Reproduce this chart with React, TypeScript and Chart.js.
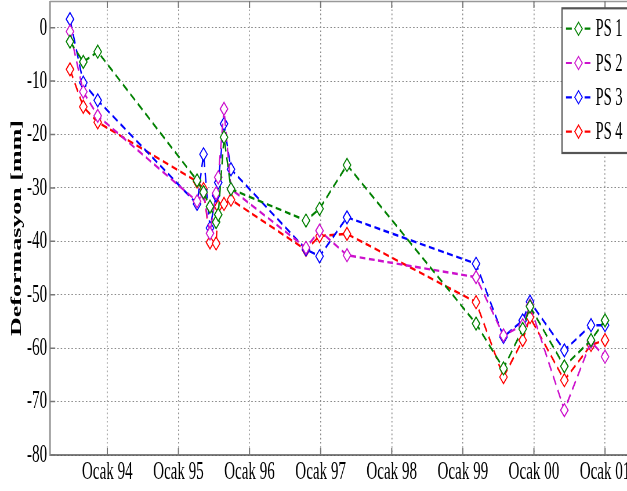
import React, { useEffect, useRef } from "react";
import { Chart, registerables } from "chart.js";

Chart.register(...registerables);

// ---- data ----
const dates = [
  1993.475, 1993.662, 1993.865, 1995.262, 1995.353, 1995.444, 1995.53, 1995.56,
  1995.641, 1995.739, 1996.794, 1996.985, 1997.371, 1999.186, 1999.572, 1999.842,
  1999.945, 2000.428, 2000.803, 2001.0,
];
const ps1 = [-2.6, -6.4, -4.5, -28.6, -30.8, -33.5, -36.4, -35.0, -20.5, -30.2, -36.1, -33.9, -25.7, -55.4, -63.8, -56.4, -52.2, -63.4, -58.5, -54.8];
const ps2 = [-0.7, -12.0, -16.5, -32.5, -31.0, -38.5, -31.0, -28.0, -15.2, -30.2, -41.2, -38.0, -42.6, -46.7, -57.6, -55.7, -52.0, -71.6, -58.8, -61.6];
const ps3 = [1.6, -10.3, -13.6, -33.0, -23.7, -37.5, -31.4, -29.0, -18.0, -26.5, -41.5, -42.8, -35.5, -44.2, -57.9, -54.8, -51.3, -60.4, -55.7, -55.7];
const ps4 = [-7.8, -14.8, -17.7, -28.8, -30.2, -40.2, -40.4, -33.5, -33.0, -32.2, -41.6, -39.0, -38.6, -51.4, -65.4, -58.5, -54.2, -66.0, -59.4, -58.5];
const seriesLabels = ["PS 1", "PS 2", "PS 3", "PS 4"];
const seriesColors = ["#008000", "#cc11cc", "#0000ff", "#ff0000"];
const xTickValues = [1994, 1995, 1996, 1997, 1998, 1999, 2000, 2001];
const xTickLabels = ["Ocak 94", "Ocak 95", "Ocak 96", "Ocak 97", "Ocak 98", "Ocak 99", "Ocak 00", "Ocak 01"];
const yTickValues = [-80, -70, -60, -50, -40, -30, -20, -10, 0];
const yTitle = "Deformasyon [mm]";

// ---- layout ----
const SX = 0.58; // horizontal squeeze of the original figure
const CANVAS_W = 1130;
const CANVAS_H = 491;
const FONT = "'Liberation Serif', 'Times New Roman', serif";

const allSeries = [ps1, ps2, ps3, ps4];

const framePlugin = {
  id: "matlabFrame",
  afterDatasetsDraw(chart: any) {
    const { ctx, chartArea: a, scales } = chart;
    ctx.save();
    ctx.setLineDash([]);
    // top border
    ctx.strokeStyle = "#999";
    ctx.lineWidth = 1.5;
    ctx.beginPath();
    ctx.moveTo(a.left, a.top + 0.5);
    ctx.lineTo(a.right, a.top + 0.5);
    ctx.stroke();
    // bottom axis
    ctx.strokeStyle = "#555";
    ctx.lineWidth = 1.6;
    ctx.beginPath();
    ctx.moveTo(a.left, a.bottom);
    ctx.lineTo(a.right, a.bottom);
    ctx.stroke();
    // left axis
    ctx.strokeStyle = "#999";
    ctx.lineWidth = 3;
    ctx.beginPath();
    ctx.moveTo(a.left, a.top);
    ctx.lineTo(a.left, a.bottom + 1);
    ctx.stroke();
    // inward ticks
    ctx.strokeStyle = "#777";
    ctx.lineWidth = 2;
    for (const v of xTickValues) {
      const px = scales.x.getPixelForValue(v);
      ctx.beginPath();
      ctx.moveTo(px, a.bottom);
      ctx.lineTo(px, a.bottom - 7);
      ctx.moveTo(px, a.top);
      ctx.lineTo(px, a.top + 7);
      ctx.stroke();
    }
    ctx.lineWidth = 1.5;
    for (const v of yTickValues) {
      const py = scales.y.getPixelForValue(v);
      ctx.beginPath();
      ctx.moveTo(a.left, py);
      ctx.lineTo(a.left + 9, py);
      ctx.moveTo(a.right, py);
      ctx.lineTo(a.right - 9, py);
      ctx.stroke();
    }
    ctx.restore();
  },
  afterDraw(chart: any) {
    const { ctx } = chart;
    ctx.save();
    const left = 562 / SX;
    const right = 650 / SX;
    const top = 8.3;
    const bottom = 153;
    ctx.fillStyle = "#fff";
    ctx.fillRect(left, top, right - left, bottom - top);
    ctx.strokeStyle = "#555";
    ctx.lineWidth = 2.2;
    ctx.setLineDash([]);
    ctx.strokeRect(left, top, right - left, bottom - top);
    ctx.font = `25px ${FONT}`;
    ctx.textBaseline = "middle";
    ctx.textAlign = "left";
    seriesLabels.forEach((lab, i) => {
      const cy = 28.7 + i * 34.3;
      const c = seriesColors[i];
      ctx.strokeStyle = c;
      ctx.lineWidth = 2.2;
      ctx.setLineDash([10, 6]);
      ctx.beginPath();
      ctx.moveTo(566 / SX, cy);
      ctx.lineTo(593 / SX, cy);
      ctx.stroke();
      ctx.setLineDash([]);
      const cx = 578.5 / SX;
      const r = 6.5;
      ctx.beginPath();
      ctx.moveTo(cx - r, cy);
      ctx.lineTo(cx, cy - r);
      ctx.lineTo(cx + r, cy);
      ctx.lineTo(cx, cy + r);
      ctx.closePath();
      ctx.fillStyle = "#fff";
      ctx.fill();
      ctx.lineWidth = 1.5;
      ctx.stroke();
      ctx.fillStyle = "#000";
      ctx.fillText(lab, 595.5 / SX, cy + 1);
    });
    ctx.restore();
  },
};

export default function App() {
  const ref = useRef<HTMLCanvasElement>(null);
  useEffect(() => {
    const datasets = allSeries.map((vals, i) => ({
      label: seriesLabels[i],
      data: vals.map((v, j) => ({ x: dates[j], y: v })),
      borderColor: seriesColors[i],
      backgroundColor: "#fff",
      borderWidth: 2.4,
      borderDash: [10, 6],
      pointStyle: "rectRot",
      pointRadius: 6.5,
      pointBorderWidth: 1.6,
      pointBackgroundColor: "#fff",
      pointBorderColor: seriesColors[i],
      tension: 0,
      fill: false,
    }));
    const chart = new Chart(ref.current as HTMLCanvasElement, {
      type: "line",
      data: { datasets } as any,
      plugins: [framePlugin],
      options: {
        animation: false,
        responsive: false,
        devicePixelRatio: 1,
        layout: {
          autoPadding: false,
          padding: { left: 0, top: 1, right: CANVAS_W - 640 / SX, bottom: 0 },
        },
        plugins: { legend: { display: false }, tooltip: { enabled: false } },
        scales: {
          x: {
            type: "linear",
            min: 1993.194,
            max: 2001.492,
            afterBuildTicks: (s: any) => {
              s.ticks = xTickValues.map((v) => ({ value: v }));
            },
            afterFit: (s: any) => {
              s.height = 36;
              s.paddingLeft = 0;
              s.paddingRight = 0;
            },
            ticks: {
              padding: 2,
              color: "#000",
              font: { family: FONT, size: 26 },
              maxRotation: 0,
              autoSkip: false,
              callback: (v: any) => {
                const k = xTickValues.indexOf(Number(v));
                return k >= 0 ? xTickLabels[k] : "";
              },
            },
            grid: {
              color: "#8a8a8a",
              lineWidth: 1.6,
              drawTicks: false,
              tickLength: 0,
            },
            border: { display: false, dash: [1.6, 2.6] },
          },
          y: {
            type: "linear",
            min: -80,
            max: 5,
            afterBuildTicks: (s: any) => {
              s.ticks = yTickValues.map((v) => ({ value: v }));
            },
            afterFit: (s: any) => {
              s.width = 50 / SX;
              s.paddingTop = 0;
              s.paddingBottom = 0;
            },
            ticks: {
              padding: 5,
              color: "#000",
              font: { family: FONT, size: 26 },
              autoSkip: false,
              callback: (v: any) => String(v),
            },
            grid: {
              color: "#8a8a8a",
              lineWidth: 1,
              drawTicks: false,
              tickLength: 0,
            },
            border: { display: false, dash: [2.6, 3.6] },
            title: {
              display: true,
              text: yTitle,
              color: "#000",
              font: { family: FONT, size: 26, weight: "bold" },
              padding: { top: 14, bottom: 0 },
            },
          },
        },
      } as any,
    });
    return () => chart.destroy();
  }, []);
  return (
    <div
      style={{
        position: "absolute",
        left: 0,
        top: 0,
        width: 627,
        height: 491,
        overflow: "hidden",
        background: "#fff",
      }}
    >
      <div
        style={{
          width: CANVAS_W,
          height: CANVAS_H,
          transform: `scaleX(${SX})`,
          transformOrigin: "0 0",
        }}
      >
        <canvas ref={ref} width={CANVAS_W} height={CANVAS_H} style={{ display: "block" }} />
      </div>
    </div>
  );
}
